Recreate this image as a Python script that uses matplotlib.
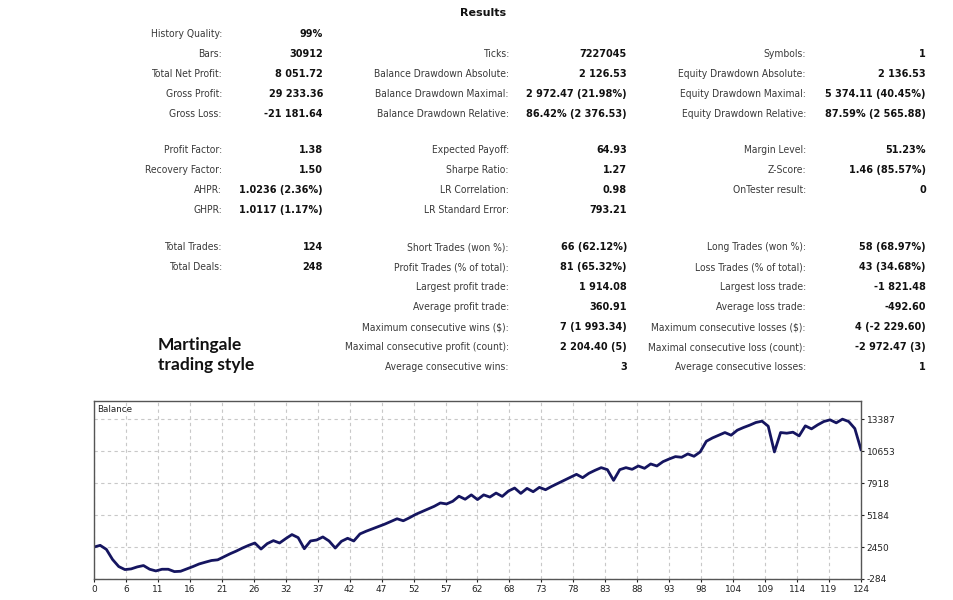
import matplotlib
matplotlib.use("Agg")
import matplotlib.pyplot as plt
import numpy as np

# ---------------- data ----------------
title = "Results"
side_note = "Martingale\ntrading style"

col1_labels = ["History Quality:", "Bars:", "Total Net Profit:", "Gross Profit:", "Gross Loss:",
               "Profit Factor:", "Recovery Factor:", "AHPR:", "GHPR:",
               "Total Trades:", "Total Deals:", "", "", "", "", ""]
col1_values = ["99%", "30912", "8 051.72", "29 233.36", "-21 181.64",
               "1.38", "1.50", "1.0236 (2.36%)", "1.0117 (1.17%)",
               "124", "248", "", "", "", "", ""]

col2_labels = ["", "Ticks:", "Balance Drawdown Absolute:", "Balance Drawdown Maximal:", "Balance Drawdown Relative:",
               "Expected Payoff:", "Sharpe Ratio:", "LR Correlation:", "LR Standard Error:",
               "Short Trades (won %):", "Profit Trades (% of total):", "Largest profit trade:",
               "Average profit trade:", "Maximum consecutive wins ($):",
               "Maximal consecutive profit (count):", "Average consecutive wins:"]
col2_values = ["", "7227045", "2 126.53", "2 972.47 (21.98%)", "86.42% (2 376.53)",
               "64.93", "1.27", "0.98", "793.21",
               "66 (62.12%)", "81 (65.32%)", "1 914.08",
               "360.91", "7 (1 993.34)",
               "2 204.40 (5)", "3"]

col3_labels = ["", "Symbols:", "Equity Drawdown Absolute:", "Equity Drawdown Maximal:", "Equity Drawdown Relative:",
               "Margin Level:", "Z-Score:", "OnTester result:", "",
               "Long Trades (won %):", "Loss Trades (% of total):", "Largest loss trade:",
               "Average loss trade:", "Maximum consecutive losses ($):",
               "Maximal consecutive loss (count):", "Average consecutive losses:"]
col3_values = ["", "1", "2 136.53", "5 374.11 (40.45%)", "87.59% (2 565.88)",
               "51.23%", "1.46 (85.57%)", "0", "",
               "58 (68.97%)", "43 (34.68%)", "-1 821.48",
               "-492.60", "4 (-2 229.60)",
               "-2 972.47 (3)", "1"]

balance = [2450, 2594, 2249, 1385, 781, 522, 580, 752, 867, 550,
           407, 550, 550, 349, 378, 580, 781, 1003, 1155, 1299,
           1356, 1615, 1874, 2105, 2364, 2594, 2795, 2277, 2738, 2997,
           2795, 3170, 3515, 3256, 2306, 2968, 3054, 3313, 2968, 2364,
           2939, 3198, 2968, 3572, 3803, 4004, 4206, 4407, 4637, 4868,
           4695, 4954, 5242, 5472, 5702, 5932, 6220, 6134, 6364, 6796,
           6537, 6911, 6508, 6911, 6723, 7066, 6780, 7238, 7496, 7038,
           7467, 7181, 7553, 7352, 7639, 7896, 8153, 8411, 8668, 8382,
           8754, 9011, 9240, 9068, 8153, 9068, 9240, 9097, 9383, 9183,
           9555, 9383, 9755, 9984, 10184, 10127, 10413, 10213, 10584, 11499,
           11785, 12014, 12243, 12014, 12443, 12672, 12872, 13101, 13215, 12786,
           10584, 12243, 12186, 12272, 11957, 12815, 12558, 12901, 13187, 13330,
           13072, 13387, 13187, 12586, 10785]

x_tick_labels = ["0", "6", "11", "16", "21", "26", "32", "37", "42", "47", "52", "57", "62",
                 "68", "73", "78", "83", "88", "93", "98", "104", "109", "114", "119", "124"]
y_ticks = [-284, 2450, 5184, 7918, 10653, 13387]

# ---------------- layout ----------------
W, H = 954, 600
fig = plt.figure(figsize=(W / 100, H / 100), dpi=100)
fig.patch.set_facecolor("white")

def px(x, y):
    return x / W, 1 - y / H

row_y = [34, 54, 74, 94, 114, 150, 170, 190, 210, 247, 267, 287, 307, 327, 347, 367]
cols = [(col1_labels, col1_values, 222, 323),
        (col2_labels, col2_values, 509, 627),
        (col3_labels, col3_values, 806, 926)]

label_font = dict(family="DejaVu Sans", fontsize=7.4, color="#3a3a3a", stretch="condensed")
value_font = dict(family="DejaVu Sans", fontsize=7.0, color="#111111", weight="bold")

for labels, values, lx, vx in cols:
    for yy, lab, val in zip(row_y, labels, values):
        if lab:
            fig.text(*px(lx, yy), lab, ha="right", va="center", **label_font)
        if val:
            fig.text(*px(vx, yy), val, ha="right", va="center", **value_font)

fig.text(*px(483, 13), title, ha="center", va="center", family="DejaVu Sans",
         fontsize=8, weight="bold", color="#111111")
fig.text(*px(158, 355), side_note, ha="left", va="center", family="Lato",
         fontsize=12.5, weight="bold", color="#111111", linespacing=1.25)

# ---------------- chart ----------------
left, right, top, bottom = 94, 861, 401, 579
ax = fig.add_axes([left / W, 1 - bottom / H, (right - left) / W, (bottom - top) / H])
x = np.arange(len(balance))
ax.plot(x, balance, color="#151560", lw=2.0, solid_joinstyle="round")
ax.set_xlim(0, len(balance) - 1)
ax.set_ylim(-284, 14940)

ax.set_xticks(np.linspace(0, len(balance) - 1, len(x_tick_labels)))
ax.set_xticklabels(x_tick_labels)
ax.set_yticks(y_ticks)
ax.set_yticklabels([str(v) for v in y_ticks])
ax.yaxis.tick_right()
ax.tick_params(axis="both", labelsize=6.5, colors="#222222", length=2, width=0.8, pad=2)
for lab in ax.get_xticklabels() + ax.get_yticklabels():
    lab.set_family("DejaVu Sans")
ax.grid(True, color="#c8c8c8", linestyle=(0, (3, 3)), linewidth=0.8)
for s in ax.spines.values():
    s.set_color("#555555")
    s.set_linewidth(1.0)
ax.text(0.004, 0.975, "Balance", transform=ax.transAxes, ha="left", va="top",
        fontsize=6.3, family="DejaVu Sans", color="#222222")

fig.savefig("out.png", dpi=100, facecolor="white")
